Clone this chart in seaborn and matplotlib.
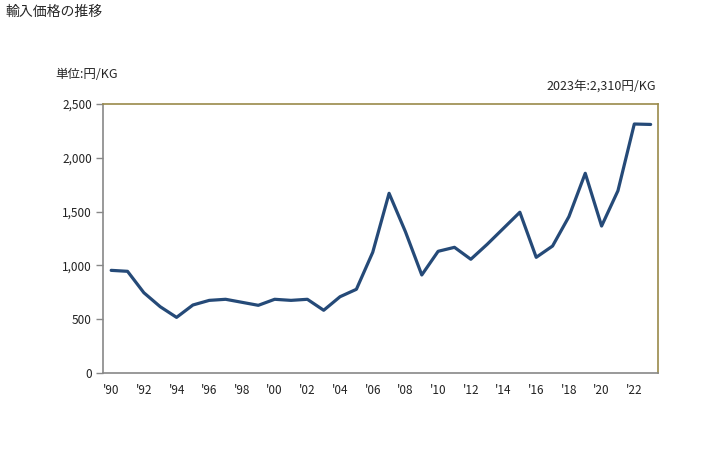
import matplotlib
matplotlib.use("Agg")
import matplotlib.pyplot as plt
import matplotlib.ticker as mticker
import numpy as np
import pandas as pd
import seaborn as sns

# ── Data ────────────────────────────────────────────────────
years = list(range(1990, 2024))
prices = [954, 945, 746, 616, 517, 632, 675, 685, 657, 629,
          685, 675, 685, 583, 709, 778, 1122, 1670, 1313, 911,
          1131, 1168, 1057, 1196, 1345, 1494, 1075, 1180, 1453, 1856,
          1366, 1694, 2314, 2310]
xtick_years = list(range(1990, 2023, 2))
xtick_labels = [f"'{y % 100:02d}" for y in xtick_years]
ytick_values = [0, 500, 1000, 1500, 2000, 2500]

title = "輸入価格の推移"
unit_label = "単位:円/KG"
last_label = "2023年:2,310円/KG"

df = pd.DataFrame({"year": years, "price": prices})

sns.set_style("white")
plt.rcParams["font.family"] = ["Noto Sans CJK JP", "DejaVu Sans"]

fig = plt.figure(figsize=(7.28, 4.5), dpi=100)
ax = fig.add_axes([103 / 728, 1 - 373 / 450, 555 / 728, 269 / 450])

sns.lineplot(data=df, x="year", y="price", ax=ax, color="#254a78", linewidth=2.3)

ax.set_xlim(1989.5, 2023.45)
ax.set_ylim(0, 2500)
ax.set_xticks(xtick_years)
ax.set_xticklabels(xtick_labels)
ax.set_yticks(ytick_values)
ax.yaxis.set_major_formatter(mticker.FuncFormatter(lambda v, p: f"{int(v):,}"))
ax.set_xlabel("")
ax.set_ylabel("")

ax.tick_params(axis="x", length=0, labelsize=8.5, pad=8, colors="#222222")
ax.tick_params(axis="y", length=5, width=1, color="#888888", labelsize=8.5,
               pad=3, colors="#222222", left=True)
ax.tick_params(axis="y", color="#888888")

for side in ["left", "bottom"]:
    ax.spines[side].set_color("#888888")
    ax.spines[side].set_linewidth(1.2)
for side in ["top", "right"]:
    ax.spines[side].set_visible(True)
    ax.spines[side].set_color("#9a8a4a")
    ax.spines[side].set_linewidth(1.2)

fig.text(5 / 728, 1 - 12 / 450, title, fontsize=10, va="center", ha="left")
fig.text(55 / 728, 1 - 74 / 450, unit_label, fontsize=9, va="center", ha="left")
fig.text(656 / 728, 1 - 86 / 450, last_label, fontsize=9, va="center", ha="right")

fig.savefig("out.png", dpi=100)
